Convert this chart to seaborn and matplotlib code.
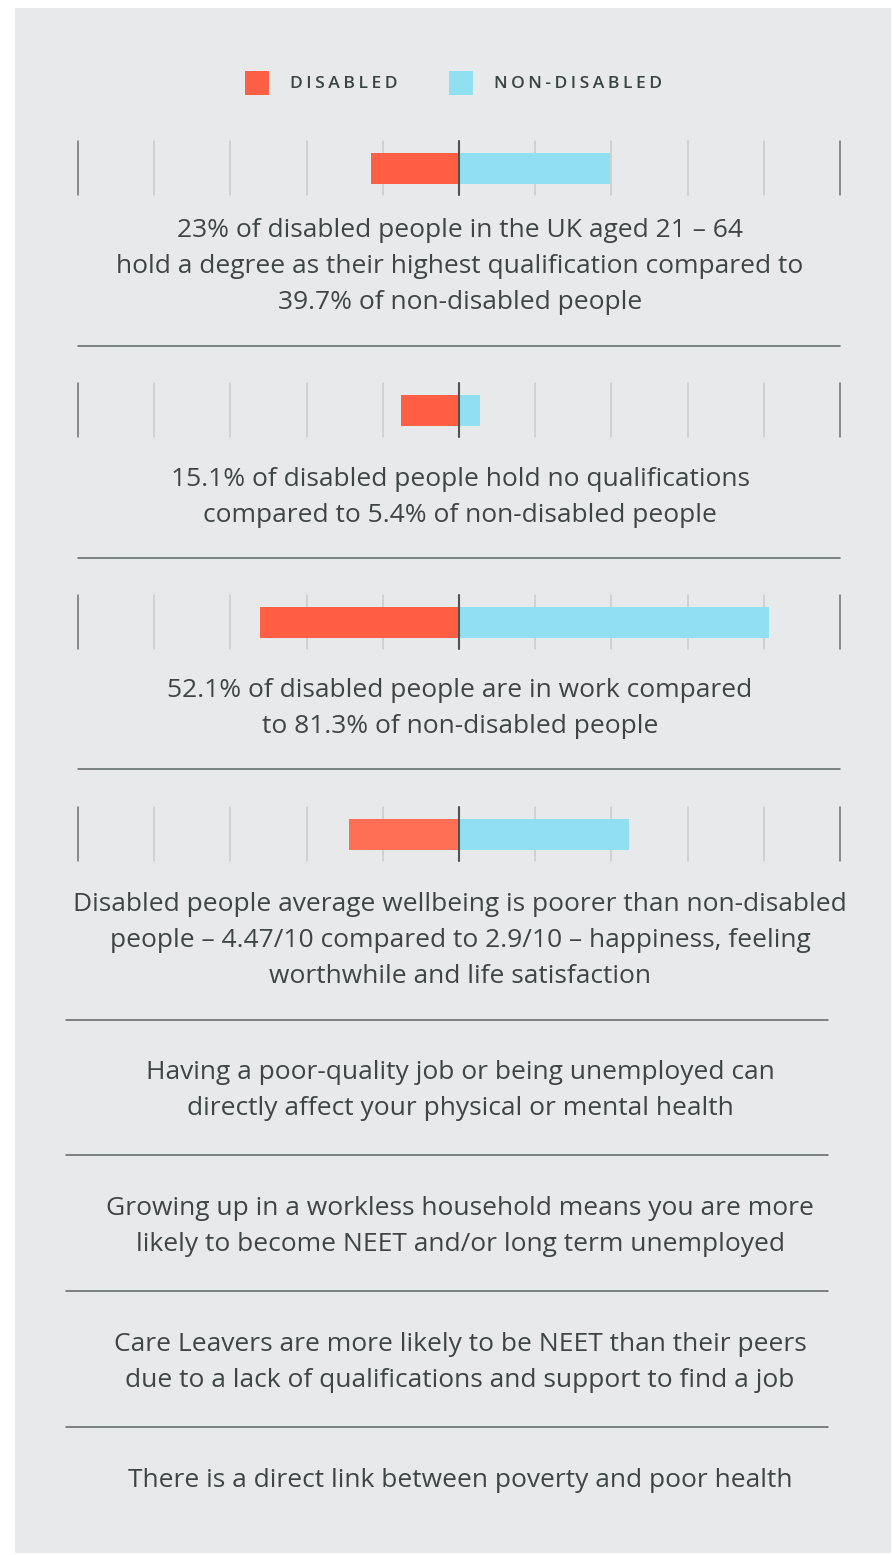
import numpy as np
import pandas as pd
import seaborn as sns
import matplotlib.pyplot as plt
from matplotlib.patches import Rectangle
from matplotlib.lines import Line2D

# ---- data -------------------------------------------------------------
groups = ["DISABLED", "NON-DISABLED"]
disabled_pct = [23.0, 15.1, 52.1]
non_disabled_pct = [39.7, 5.4, 81.3]
# average wellbeing scores out of 10, drawn on the same percent scale
wellbeing_scores = [2.9, 4.47]
tick_values = [-100, -80, -60, -40, -20, 0, 20, 40, 60, 80, 100]

captions = [
    ["23% of disabled people in the UK aged 21 \u2013 64",
     "hold a degree as their highest qualification compared to",
     "39.7% of non-disabled people"],
    ["15.1% of disabled people hold no qualifications",
     "compared to 5.4% of non-disabled people"],
    ["52.1% of disabled people are in work compared",
     "to 81.3% of non-disabled people"],
    ["Disabled people average wellbeing is poorer than non-disabled",
     "people \u2013 4.47/10 compared to 2.9/10 \u2013 happiness, feeling",
     "worthwhile and life satisfaction"],
]
notes = [
    ["Having a poor-quality job or being unemployed can",
     "directly affect your physical or mental health"],
    ["Growing up in a workless household means you are more",
     "likely to become NEET and/or long term unemployed"],
    ["Care Leavers are more likely to be NEET than their peers",
     "due to a lack of qualifications and support to find a job"],
    ["There is a direct link between poverty and poor health"],
]

# ---- styling ----------------------------------------------------------
W, H, DPI = 893, 1555, 100
PANEL = "#E8E9EA"
TEXT = "#3F4545"
RULE = "#5C6466"
RED = "#FF5F45"
RED_SOFT = "#FF6F56"
CYAN = "#90E0F2"
FONT = ["Open Sans", "DejaVu Sans"]

sns.set_theme(style="white")
plt.rcParams["font.family"] = FONT


def fx(px):
    return px / W


def fy(py):
    return 1 - py / H


fig = plt.figure(figsize=(W / DPI, H / DPI), dpi=DPI, facecolor="white")
fig.patches.append(Rectangle((fx(15), fy(1553)), fx(891) - fx(15), fy(8) - fy(1553),
                             transform=fig.transFigure, facecolor=PANEL,
                             edgecolor="none", zorder=-5))

# ---- legend -----------------------------------------------------------
def spaced(s):
    return "\u200a\u200a".join(s)

for x0, label, col in [(245, groups[0], RED), (449, groups[1], CYAN)]:
    fig.patches.append(Rectangle((fx(x0), fy(95)), fx(24), 24 / H,
                                 transform=fig.transFigure, facecolor=col,
                                 edgecolor="none", zorder=1))
    fig.text(fx(x0 + 45), fy(84), spaced(label), ha="left", va="center",
             fontsize=12.6, color="#3A4444", fontweight="semibold")

# ---- bar rows ---------------------------------------------------------
rows = []
for i in range(3):
    rows.append({"disabled": disabled_pct[i], "non": non_disabled_pct[i], "red": RED})
rows.append({"disabled": wellbeing_scores[0] * 10, "non": wellbeing_scores[1] * 10,
             "red": RED_SOFT})

tick_tops = [141, 383, 595, 807]
row_h = 54
for r, top in zip(rows, tick_tops):
    ax = fig.add_axes([fx(78), fy(top + row_h), fx(840) - fx(78), row_h / H])
    ax.set_zorder(3)
    df = pd.DataFrame({
        "value": [-r["disabled"], r["non"]],
        "row": ["r", "r"],
        "group": groups,
    })
    sns.barplot(data=df, x="value", y="row", hue="group", orient="h",
                palette={groups[0]: r["red"], groups[1]: CYAN},
                dodge=False, width=31 / row_h, saturation=1, legend=False,
                linewidth=0, edgecolor="none", ax=ax, zorder=2)
    ax.set_xlim(-100, 100)
    ax.set_ylim(0.5, -0.5)
    for t in tick_values:
        if t == 0:
            ax.axvline(t, color="#4C5454", lw=1.5, zorder=5, clip_on=False)
        elif abs(t) == 100:
            ax.axvline(t, color="#6A7272", lw=1.1, zorder=1, clip_on=False)
        else:
            ax.axvline(t, color="#C8CACB", lw=1.1, zorder=1, clip_on=False)
    ax.set_axis_off()
    ax.patch.set_alpha(0)

# ---- captions ---------------------------------------------------------
LINE = 36
FS = 19


def draw_block(lines, first_y, cx=460):
    for k, line in enumerate(lines):
        fig.text(fx(cx), fy(first_y + 2.5 + k * LINE), line, ha="center",
                 va="center", fontsize=FS, color=TEXT)


for lines, y0 in zip(captions, [228, 477, 688, 902]):
    draw_block(lines, y0)
for lines, y0 in zip(notes, [1070, 1206, 1342, 1478]):
    draw_block(lines, y0)

# ---- divider rules ----------------------------------------------------
for y in [346, 558, 769]:
    fig.add_artist(Line2D([fx(78), fx(840)], [fy(y), fy(y)], color=RULE, lw=1.1))
for y in [1020, 1155, 1291, 1427]:
    fig.add_artist(Line2D([fx(66), fx(828)], [fy(y), fy(y)], color=RULE, lw=1.1))

fig.savefig("out.png", dpi=DPI, facecolor="white")
